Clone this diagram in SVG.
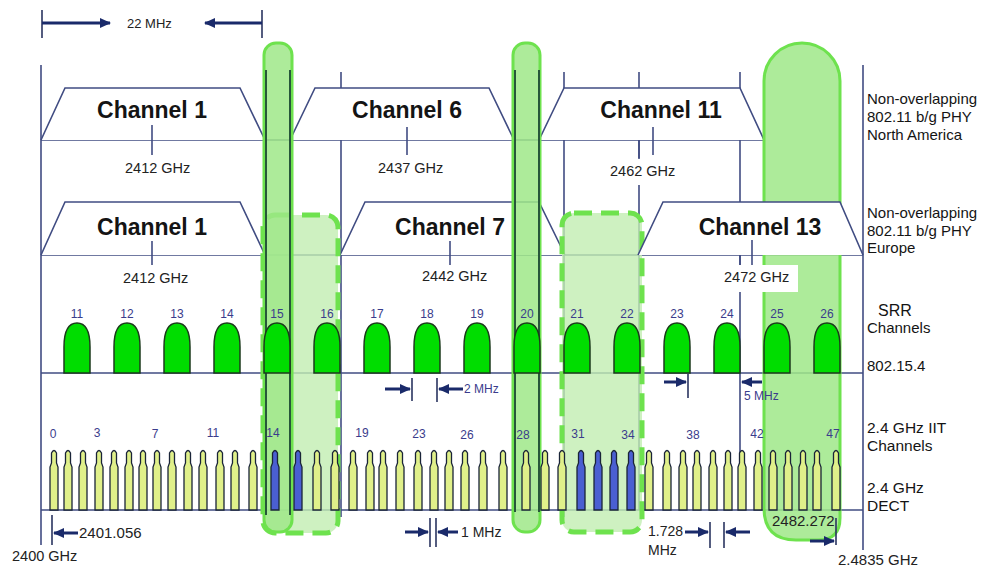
<svg xmlns="http://www.w3.org/2000/svg" width="983" height="571" viewBox="0 0 983 571">
<style>
text{font-family:"Liberation Sans",Arial,sans-serif}
.g{stroke:#404c82;stroke-width:1.6;fill:none}
.tz{fill:#fff;stroke:#404c82;stroke-width:1.6}
.ch{font-size:23px;font-weight:bold;fill:#141414;text-anchor:middle}
.hz{font-size:14.5px;fill:#222}
.lb{font-size:15px;fill:#141414}
.num{font-size:12px;fill:#3a3c8c;text-anchor:middle}
.ar{stroke:#1a2a6a;stroke-width:3;fill:none;marker-end:url(#ah)}
.tk{stroke:#2a3460;stroke-width:1.6}
.nb{fill:#9fe888;fill-opacity:.85;stroke:#6ee24e;stroke-width:3}
.db{fill:#c2eeb2;fill-opacity:.8;stroke:#6ee24e;stroke-width:5;stroke-dasharray:18 9}
.dk{stroke:#27563a;stroke-width:2}
.bump{fill:#00dd00;stroke:#1c3a1c;stroke-width:1.5}
.dy{fill:#e0f08a;stroke:#1a2438;stroke-width:1.3}
.dbl{fill:#4a5fd2;stroke:#1a2438;stroke-width:1.3}
</style>
<defs>
<marker id="ah" markerUnits="userSpaceOnUse" markerWidth="11" markerHeight="10" refX="10" refY="5" orient="auto"><path d="M0,0 L11,5 L0,10 Z" fill="#1a2a6a"/></marker>
<path id="bp" d="M-13,0 V-26 Q-13,-50 0,-50 Q13,-50 13,-26 V0 Z"/>
<path id="dp" d="M-4,510 V467 L-2.5,463 V453 Q0,448 2.5,453 V463 L4,467 V510 Z"/>
</defs>
<rect width="983" height="571" fill="#fff"/>

<g id="grid">
<line class="g" x1="41" y1="65" x2="41" y2="545"/>
<line class="g" x1="863" y1="65" x2="863" y2="550"/>
<line class="g" x1="341" y1="72" x2="341" y2="517"/>
<line class="g" x1="564" y1="72" x2="564" y2="517"/>
<line class="g" x1="639" y1="72" x2="639" y2="510"/>
<line class="g" x1="740" y1="72" x2="740" y2="505"/>
<line class="g" x1="41" y1="140" x2="764" y2="140"/>
<line class="g" x1="41" y1="255" x2="863" y2="255"/>
<line class="g" x1="41" y1="373" x2="863" y2="373"/>
<line class="g" x1="41" y1="510" x2="863" y2="510"/>
</g>

<g id="na-channels">
<path class="tz" d="M41,140 L65,88 H240 L265,140"/>
<path class="tz" d="M290,140 L315,88 H489 L514,140"/>
<path class="tz" d="M539,140 L564,88 H740 L764,140"/>
<line class="g" x1="152" y1="125" x2="152" y2="155"/>
<line class="g" x1="407" y1="127" x2="407" y2="155"/>
<line class="g" x1="653" y1="127" x2="653" y2="155"/>
<line class="g" x1="639" y1="140" x2="639" y2="158"/>
<text class="ch" x="152" y="118">Channel 1</text>
<text class="ch" x="407" y="118">Channel 6</text>
<text class="ch" x="661" y="118">Channel 11</text>
<text class="hz" x="125" y="173">2412 GHz</text>
<text class="hz" x="378" y="173">2437 GHz</text>
<rect x="608" y="159" width="68" height="26" fill="#fff"/>
<text class="hz" x="610" y="176">2462 GHz</text>
</g>

<g id="eu-channels-a">
<path class="tz" d="M41,255 L65,202 H240 L265,255"/>
<path class="tz" d="M340,255 L365,202 H539 L565,255"/>
<line class="g" x1="152" y1="241" x2="152" y2="265"/>
<line class="g" x1="450" y1="241" x2="450" y2="265"/>
<text class="ch" x="152" y="235">Channel 1</text>
<text class="ch" x="450" y="235">Channel 7</text>
<text class="hz" x="123" y="283">2412 GHz</text>
<text class="hz" x="422" y="281">2442 GHz</text>
</g>

<g id="gaps">
<rect class="db" x="263" y="215" width="75" height="318" rx="12"/>
<rect class="db" x="562" y="213" width="80" height="319" rx="12"/>
<rect class="nb" x="264" y="43" width="28" height="489" rx="12"/>
<rect class="nb" x="513" y="43" width="27" height="489" rx="12"/>
<path class="nb" d="M764,81 A38,38 0 0 1 840,81 V518 Q840,540 818,540 H796 Q764,540 764,508 Z"/>
<line class="dk" x1="266" y1="70" x2="266" y2="515"/>
<line class="dk" x1="290" y1="70" x2="290" y2="515"/>
<line class="dk" x1="515" y1="70" x2="515" y2="512"/>
<line class="dk" x1="539" y1="70" x2="539" y2="512"/>
</g>

<g id="eu-channels-b">
<path class="tz" d="M638,255 L663,202 H840 L863,255"/>
<line class="g" x1="752" y1="240" x2="752" y2="265"/>
<line class="g" x1="740" y1="255" x2="740" y2="265"/>
<text class="ch" x="760" y="235">Channel 13</text>
<rect x="722" y="265" width="76" height="27" fill="#fff"/>
<text class="hz" x="724" y="282">2472 GHz</text>
</g>

<g id="srr">
<use href="#bp" class="bump" x="77" y="373"/>
<use href="#bp" class="bump" x="127" y="373"/>
<use href="#bp" class="bump" x="177" y="373"/>
<use href="#bp" class="bump" x="227" y="373"/>
<use href="#bp" class="bump" x="277" y="373"/>
<use href="#bp" class="bump" x="327" y="373"/>
<use href="#bp" class="bump" x="377" y="373"/>
<use href="#bp" class="bump" x="427" y="373"/>
<use href="#bp" class="bump" x="477" y="373"/>
<use href="#bp" class="bump" x="527" y="373"/>
<use href="#bp" class="bump" x="577" y="373"/>
<use href="#bp" class="bump" x="627" y="373"/>
<use href="#bp" class="bump" x="677" y="373"/>
<use href="#bp" class="bump" x="727" y="373"/>
<use href="#bp" class="bump" x="777" y="373"/>
<use href="#bp" class="bump" x="827" y="373"/>
<text class="num" x="77" y="318">11</text>
<text class="num" x="127" y="318">12</text>
<text class="num" x="177" y="318">13</text>
<text class="num" x="227" y="318">14</text>
<text class="num" x="277" y="318">15</text>
<text class="num" x="327" y="318">16</text>
<text class="num" x="377" y="318">17</text>
<text class="num" x="427" y="318">18</text>
<text class="num" x="477" y="318">19</text>
<text class="num" x="527" y="318">20</text>
<text class="num" x="577" y="318">21</text>
<text class="num" x="627" y="318">22</text>
<text class="num" x="677" y="318">23</text>
<text class="num" x="727" y="318">24</text>
<text class="num" x="777" y="318">25</text>
<text class="num" x="827" y="318">26</text>
</g>

<g id="dect">
<use href="#dp" class="dy" x="54"/><use href="#dp" class="dy" x="68"/><use href="#dp" class="dy" x="83"/><use href="#dp" class="dy" x="99"/>
<use href="#dp" class="dy" x="114"/><use href="#dp" class="dy" x="129"/><use href="#dp" class="dy" x="143"/><use href="#dp" class="dy" x="157"/>
<use href="#dp" class="dy" x="172"/><use href="#dp" class="dy" x="188"/><use href="#dp" class="dy" x="203"/><use href="#dp" class="dy" x="220"/>
<use href="#dp" class="dy" x="235"/><use href="#dp" class="dy" x="253"/><use href="#dp" class="dbl" x="275"/><use href="#dp" class="dbl" x="298"/>
<use href="#dp" class="dy" x="317"/><use href="#dp" class="dy" x="335"/><use href="#dp" class="dy" x="353"/><use href="#dp" class="dy" x="370"/>
<use href="#dp" class="dy" x="383"/><use href="#dp" class="dy" x="400"/><use href="#dp" class="dy" x="418"/><use href="#dp" class="dy" x="434"/>
<use href="#dp" class="dy" x="449"/><use href="#dp" class="dy" x="465"/><use href="#dp" class="dy" x="483"/><use href="#dp" class="dy" x="503"/>
<use href="#dp" class="dy" x="526"/><use href="#dp" class="dy" x="545"/><use href="#dp" class="dy" x="562"/><use href="#dp" class="dbl" x="581"/>
<use href="#dp" class="dbl" x="598"/><use href="#dp" class="dbl" x="614"/><use href="#dp" class="dbl" x="631"/><use href="#dp" class="dy" x="649"/>
<use href="#dp" class="dy" x="667"/><use href="#dp" class="dy" x="683"/><use href="#dp" class="dy" x="697"/><use href="#dp" class="dy" x="713"/>
<use href="#dp" class="dy" x="728"/><use href="#dp" class="dy" x="742"/><use href="#dp" class="dy" x="758"/><use href="#dp" class="dy" x="773"/>
<use href="#dp" class="dy" x="788"/><use href="#dp" class="dy" x="803"/><use href="#dp" class="dy" x="817"/><use href="#dp" class="dy" x="836"/>
<text class="num" x="53" y="438">0</text>
<text class="num" x="97" y="437">3</text>
<text class="num" x="155" y="438">7</text>
<text class="num" x="213" y="437">11</text>
<text class="num" x="273" y="437">14</text>
<text class="num" x="362" y="437">19</text>
<text class="num" x="419" y="438">23</text>
<text class="num" x="467" y="439">26</text>
<text class="num" x="523" y="439">28</text>
<text class="num" x="578" y="438">31</text>
<text class="num" x="628" y="439">34</text>
<text class="num" x="693" y="439">38</text>
<text class="num" x="757" y="438">42</text>
<text class="num" x="833" y="438">47</text>
</g>

<g id="connectors">
<line class="tk" x1="42" y1="10" x2="42" y2="38"/>
<line class="tk" x1="262" y1="10" x2="262" y2="38"/>
<line class="ar" x1="42" y1="23" x2="110" y2="23"/>
<line class="ar" x1="262" y1="23" x2="205" y2="23"/>
<line class="ar" x1="385" y1="389" x2="410" y2="389"/>
<line class="tk" x1="412" y1="378" x2="412" y2="401"/>
<line class="tk" x1="437" y1="378" x2="437" y2="402"/>
<line class="ar" x1="463" y1="389" x2="439" y2="389"/>
<line class="ar" x1="664" y1="382" x2="686" y2="382"/>
<line class="tk" x1="688" y1="374" x2="688" y2="398"/>
<line class="ar" x1="762" y1="382" x2="742" y2="382"/>
<line class="tk" x1="52" y1="515" x2="52" y2="545"/>
<line class="ar" x1="78" y1="533" x2="54" y2="533"/>
<line class="ar" x1="405" y1="532" x2="428" y2="532"/>
<line class="tk" x1="430" y1="518" x2="430" y2="547"/>
<line class="tk" x1="436" y1="518" x2="436" y2="547"/>
<line class="ar" x1="458" y1="532" x2="438" y2="532"/>
<line class="ar" x1="685" y1="532" x2="708" y2="532"/>
<line class="tk" x1="710" y1="522" x2="710" y2="548"/>
<line class="tk" x1="724" y1="522" x2="724" y2="548"/>
<line class="ar" x1="750" y1="532" x2="726" y2="532"/>
<line class="tk" x1="836" y1="518" x2="836" y2="545"/>
<line class="ar" x1="810" y1="541" x2="834" y2="541"/>
</g>

<g id="dim-labels">
<text x="127" y="28" style="font-size:13px;fill:#222">22 MHz</text>
<text x="464" y="393" style="font-size:12px;fill:#3a3c8c">2 MHz</text>
<text x="744" y="400" style="font-size:12px;fill:#3a3c8c">5 MHz</text>
<text x="79" y="538" style="font-size:15px;fill:#222">2401.056</text>
<text x="12" y="561" style="font-size:14.5px;fill:#222">2400 GHz</text>
<text x="461" y="537" style="font-size:14px;fill:#222">1 MHz</text>
<text x="648" y="536" style="font-size:14px;fill:#222">1.728</text>
<text x="648" y="555" style="font-size:14px;fill:#222">MHz</text>
<text x="772" y="526" style="font-size:15px;fill:#222">2482.272</text>
<text x="838" y="565" style="font-size:15px;fill:#222">2.4835 GHz</text>
</g>

<g id="row-labels">
<text class="lb" x="867" y="104">Non-overlapping</text>
<text class="lb" x="867" y="122">802.11 b/g PHY</text>
<text class="lb" x="867" y="140">North America</text>
<text class="lb" x="867" y="218">Non-overlapping</text>
<text class="lb" x="867" y="236">802.11 b/g PHY</text>
<text class="lb" x="867" y="253">Europe</text>
<text class="lb" x="878" y="316" style="font-size:16px">SRR</text>
<text class="lb" x="867" y="333">Channels</text>
<text class="lb" x="867" y="371">802.15.4</text>
<text class="lb" x="867" y="433" style="font-size:15.5px">2.4 GHz IIT</text>
<text class="lb" x="867" y="451" style="font-size:15.5px">Channels</text>
<text class="lb" x="867" y="493" style="font-size:15.5px">2.4 GHz</text>
<text class="lb" x="867" y="511" style="font-size:15.5px">DECT</text>
</g>
</svg>
